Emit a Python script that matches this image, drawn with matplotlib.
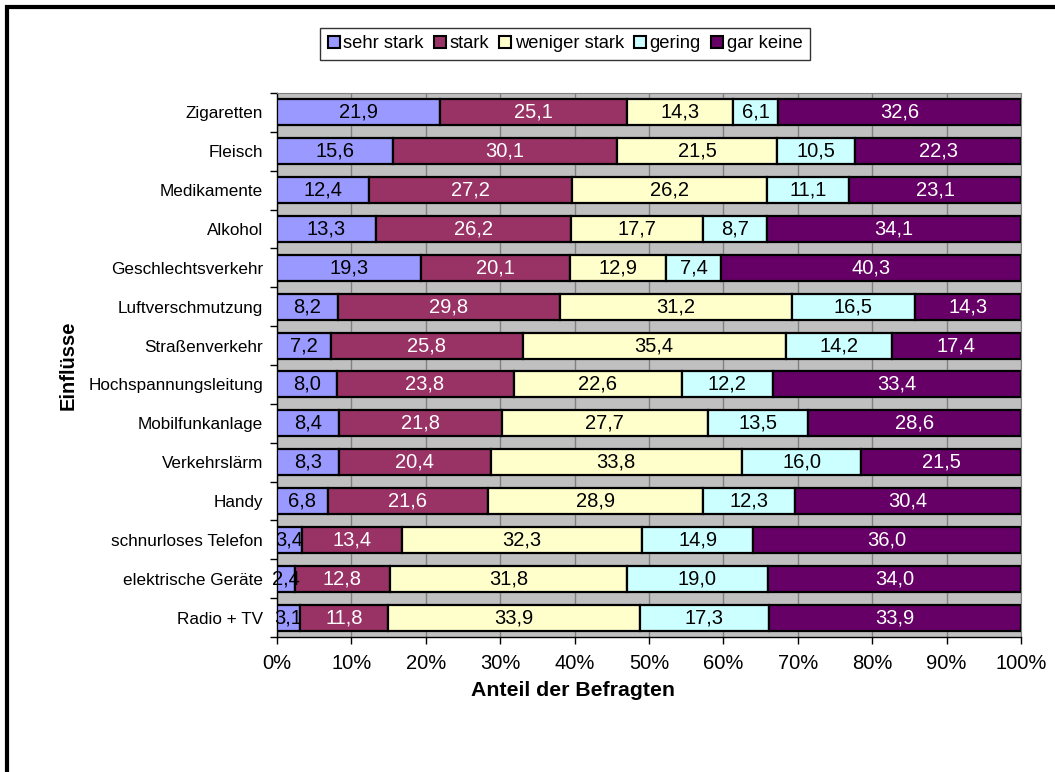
import matplotlib
matplotlib.use("Agg")
import matplotlib.pyplot as plt
import matplotlib.patches as mpatches
import numpy as np

plt.rcParams['font.family'] = ['Liberation Sans', 'DejaVu Sans']

categories = ["Zigaretten", "Fleisch", "Medikamente", "Alkohol", "Geschlechtsverkehr",
              "Luftverschmutzung", "Straßenverkehr", "Hochspannungsleitung", "Mobilfunkanlage",
              "Verkehrslärm", "Handy", "schnurloses Telefon", "elektrische Geräte", "Radio + TV"]
series_names = ["sehr stark", "stark", "weniger stark", "gering", "gar keine"]
sehr_stark = [21.9, 15.6, 12.4, 13.3, 19.3, 8.2, 7.2, 8.0, 8.4, 8.3, 6.8, 3.4, 2.4, 3.1]
stark = [25.1, 30.1, 27.2, 26.2, 20.1, 29.8, 25.8, 23.8, 21.8, 20.4, 21.6, 13.4, 12.8, 11.8]
weniger_stark = [14.3, 21.5, 26.2, 17.7, 12.9, 31.2, 35.4, 22.6, 27.7, 33.8, 28.9, 32.3, 31.8, 33.9]
gering = [6.1, 10.5, 11.1, 8.7, 7.4, 16.5, 14.2, 12.2, 13.5, 16.0, 12.3, 14.9, 19.0, 17.3]
gar_keine = [32.6, 22.3, 23.1, 34.1, 40.3, 14.3, 17.4, 33.4, 28.6, 21.5, 30.4, 36.0, 34.0, 33.9]
x_ticklabels = ["0%", "10%", "20%", "30%", "40%", "50%", "60%", "70%", "80%", "90%", "100%"]

colors = ["#9999FF", "#993366", "#FFFFCC", "#CCFFFF", "#660066"]
text_colors = ["black", "white", "black", "black", "white"]

data = np.array([sehr_stark, stark, weniger_stark, gering, gar_keine])
totals = data.sum(axis=0)
pct = data / totals * 100

fig = plt.figure(figsize=(10.55, 7.72), dpi=100)
ax = fig.add_axes([277/1055, 1-637/772, (1021-277)/1055, (637-93)/772])
ax.set_facecolor("#C0C0C0")

y = np.arange(len(categories))
left = np.zeros(len(categories))
for i in range(5):
    ax.barh(y, pct[i], left=left, height=0.67, color=colors[i], edgecolor="black",
            linewidth=1.6, zorder=3, label=series_names[i])
    for j in range(len(categories)):
        ax.text(left[j] + pct[i][j] / 2, y[j], f"{data[i][j]:.1f}".replace(".", ","),
                ha="center", va="center", fontsize=14.5, color=text_colors[i], zorder=4)
    left += pct[i]

ax.set_xlim(0, 100)
ax.set_ylim(len(categories) - 0.5, -0.5)
ax.set_xticks(np.arange(0, 101, 10))
ax.set_xticklabels(x_ticklabels, fontsize=14.5)
ax.set_yticks(y)
ax.set_yticklabels(categories, fontsize=12.3)
ax.tick_params(axis="y", which="major", length=0, pad=10)
ax.set_yticks(np.arange(-0.5, len(categories), 1), minor=True)
ax.tick_params(axis="y", which="minor", length=5, width=1, direction="out")
ax.tick_params(axis="x", which="major", length=5, width=1, direction="out", pad=7)
ax.grid(axis="x", color="#808080", linewidth=1, zorder=1)
ax.set_axisbelow(True)
for s in ["top", "right"]:
    ax.spines[s].set_color("#808080")
for s in ["left", "bottom"]:
    ax.spines[s].set_color("black")
    ax.spines[s].set_linewidth(1)

fig.text(573/1055, 1-691/772, "Anteil der Befragten", ha="center", va="center",
         fontsize=15.3, fontweight="bold")
fig.text(68/1055, 1-365/772, "Einflüsse", ha="center", va="center", rotation=90,
         fontsize=14.5, fontweight="bold")

handles = [mpatches.Patch(facecolor=colors[i], edgecolor="black", linewidth=1.5,
                          label=series_names[i]) for i in range(5)]
leg = fig.legend(handles=handles, loc="center", bbox_to_anchor=(565/1055, 1-44/772),
                 ncol=5, fontsize=13.2, frameon=True, fancybox=False, edgecolor="black",
                 handlelength=0.65, handleheight=0.65, handletextpad=0.2,
                 columnspacing=0.55, borderpad=0.4, borderaxespad=0)
leg.get_frame().set_linewidth(1)

border = mpatches.Rectangle((7/1055, -0.1), 1.2, 1 - 7/772 + 0.1, transform=fig.transFigure,
                            fill=False, edgecolor="black", linewidth=3, zorder=10)
fig.patches.append(border)

fig.savefig("out.png", dpi=100, facecolor="white")
